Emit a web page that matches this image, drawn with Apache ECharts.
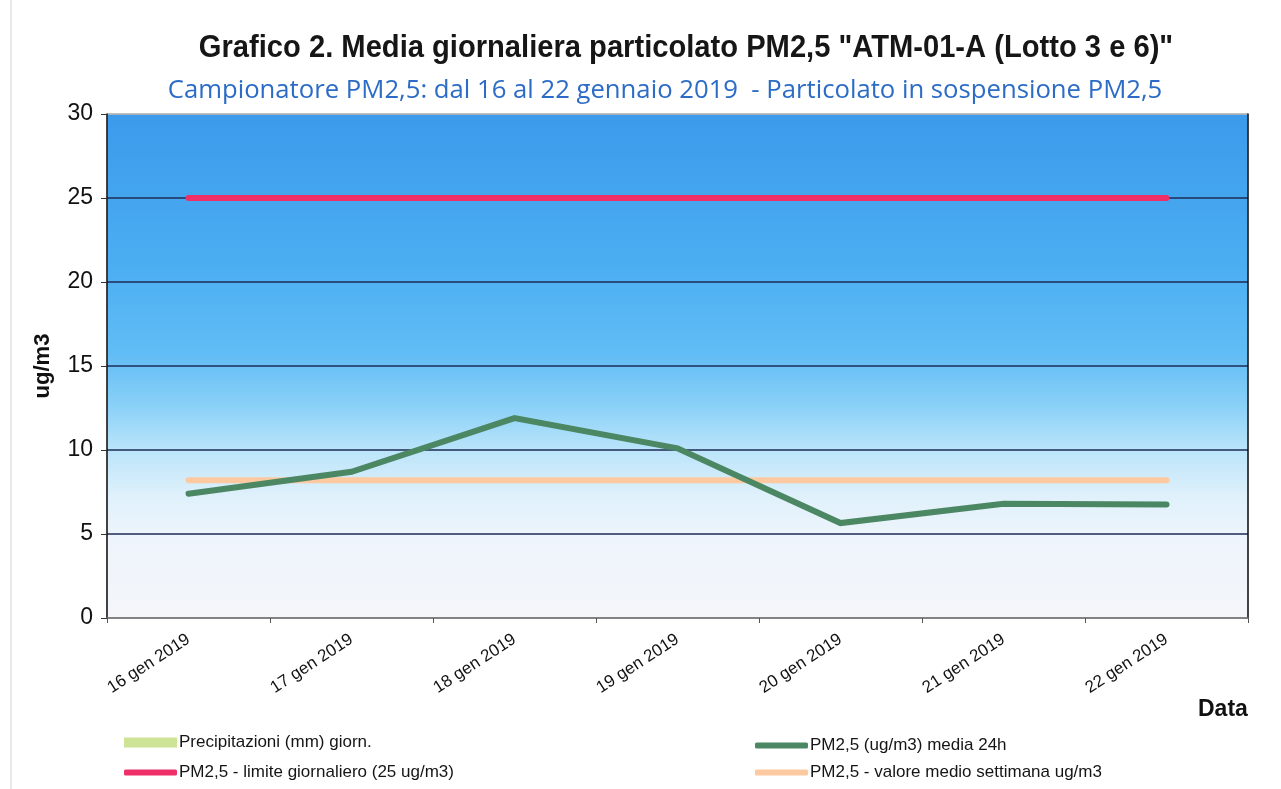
<!DOCTYPE html>
<html>
<head>
<meta charset="utf-8">
<script src="https://cdn.jsdelivr.net/npm/echarts@6/dist/echarts.min.js"></script>
<style>
  html, body { margin: 0; padding: 0; background: #fff; }
  #chart { width: 1281px; height: 789px; }
</style>
</head>
<body>
<div id="chart"></div>
<script>
// Giorni di campionamento
const giorni = ['16 gen 2019', '17 gen 2019', '18 gen 2019', '19 gen 2019', '20 gen 2019', '21 gen 2019', '22 gen 2019'];
// PM2,5 media 24h (ug/m3)
const pm25Media24h = [7.4, 8.7, 11.9, 10.1, 5.65, 6.8, 6.75];
// Limite giornaliero PM2,5 (ug/m3)
const limiteGiornaliero = [25, 25, 25, 25, 25, 25, 25];
// Valore medio della settimana (ug/m3)
const medioSettimana = [8.2, 8.2, 8.2, 8.2, 8.2, 8.2, 8.2];
// Precipitazioni giornaliere (mm): nessun dato nel periodo
const precipitazioni = [];
// Scala asse Y
const yMin = 0, yMax = 30, yStep = 5;

const nomi = {
  prec: 'Precipitazioni (mm) giorn.',
  limite: 'PM2,5 - limite giornaliero (25 ug/m3)',
  media: 'PM2,5 (ug/m3) media 24h',
  settimana: 'PM2,5 - valore medio settimana ug/m3'
};
const colori = {
  prec: '#cde396',
  limite: '#ef2f68',
  media: '#4c8763',
  settimana: '#fcc9a0'
};

const chart = echarts.init(document.getElementById('chart'), null, { renderer: 'canvas' });
const fontBase = '"Liberation Sans", Arial, sans-serif';

// Sfondo dell'area del grafico: azzurro in alto, quasi bianco in basso
const sfondo = new echarts.graphic.LinearGradient(0, 0, 0, 1, [
  { offset: 0.00, color: '#3c9aeb' },
  { offset: 0.30, color: '#4baef2' },
  { offset: 0.48, color: '#62bdf5' },
  { offset: 0.58, color: '#8bd1f8' },
  { offset: 0.67, color: '#bce5fa' },
  { offset: 0.76, color: '#e0f1fb' },
  { offset: 0.84, color: '#eef4fb' },
  { offset: 1.00, color: '#f4f6fa' }
]);

const legendaBase = {
  orient: 'vertical', itemWidth: 53, itemGap: 0,
  textStyle: { fontFamily: fontBase, fontSize: 17, color: '#151515', padding: [0, 0, 0, -3] }
};

chart.setOption({
  animation: false,
  backgroundColor: '#ffffff',
  title: {
    text: 'Campionatore PM2,5: dal 16 al 22 gennaio 2019  - Particolato in sospensione PM2,5',
    left: 660, top: 73, textAlign: 'center',
    textStyle: { fontFamily: '"Open Sans", sans-serif', fontWeight: 'normal', fontSize: 25.7, color: '#2c6cc6' }
  },
  grid: {
    left: 107, right: 33, top: 114, bottom: 171,
    show: true, backgroundColor: sfondo, borderColor: '#b5b5b5', borderWidth: 1
  },
  legend: [
    Object.assign({}, legendaBase, {
      left: 119, top: 729, itemHeight: 10,
      data: [{ name: nomi.prec, icon: 'rect' }]
    }),
    Object.assign({}, legendaBase, {
      left: 119, top: 759, itemHeight: 6,
      data: [{ name: nomi.limite, icon: 'roundRect' }]
    }),
    Object.assign({}, legendaBase, {
      left: 750, top: 732, itemHeight: 6, itemGap: 10,
      data: [{ name: nomi.media, icon: 'roundRect' }, { name: nomi.settimana, icon: 'roundRect' }]
    })
  ],
  xAxis: {
    type: 'category',
    data: giorni,
    boundaryGap: true,
    axisLine: { lineStyle: { color: '#7a7a7a', width: 1.5 } },
    axisTick: { show: true, length: 5, lineStyle: { color: '#555' } },
    axisLabel: {
      rotate: 33, margin: 20, interval: 0,
      fontFamily: fontBase, fontSize: 17, color: '#111'
    },
    splitLine: { show: false }
  },
  yAxis: [
    {
      type: 'value', min: yMin, max: yMax, interval: yStep,
      name: 'ug/m3', nameLocation: 'middle', nameGap: 53, nameRotate: 90,
      nameTextStyle: { fontFamily: fontBase, fontWeight: 'bold', fontSize: 22, color: '#111' },
      axisLine: { show: true, lineStyle: { color: '#111', width: 1.5 } },
      axisTick: { show: true, length: 6, lineStyle: { color: '#333' } },
      axisLabel: { fontFamily: fontBase, fontSize: 23, color: '#111', margin: 14 },
      splitLine: {
        show: true,
        lineStyle: { color: ['#888888', '#1d2b55', '#1d2b55', '#1d2b55', '#1d2b55', '#1d2b55', '#b5b5b5'], width: 1.5 }
      }
    },
    {
      type: 'value', min: yMin, max: yMax, interval: yStep, position: 'right',
      axisLine: { show: true, lineStyle: { color: '#111', width: 1.5 } },
      axisTick: { show: false }, axisLabel: { show: false }, splitLine: { show: false }
    }
  ],
  graphic: [
    {
      // titolo principale in carattere stretto
      type: 'text', x: 686, y: 48, scaleX: 0.94,
      style: {
        text: 'Grafico 2. Media giornaliera particolato PM2,5 "ATM-01-A (Lotto 3 e 6)"',
        align: 'center', verticalAlign: 'middle',
        fontFamily: fontBase, fontWeight: 'bold', fontSize: 31, fill: '#161616'
      }
    },
    {
      type: 'text', left: 1198, top: 698,
      style: { text: 'Data', fontFamily: fontBase, fontWeight: 'bold', fontSize: 23, fill: '#111' }
    },
    {
      type: 'line', shape: { x1: 11, y1: 0, x2: 11, y2: 789 },
      style: { stroke: '#d0d0d0', lineWidth: 1 }
    }
  ],
  series: [
    {
      name: nomi.prec, type: 'bar', data: precipitazioni,
      itemStyle: { color: colori.prec }
    },
    {
      name: nomi.limite, type: 'line', data: limiteGiornaliero,
      symbol: 'none', z: 3,
      lineStyle: { color: colori.limite, width: 6, cap: 'round' },
      itemStyle: { color: colori.limite }
    },
    {
      name: nomi.settimana, type: 'line', data: medioSettimana,
      symbol: 'none', z: 3,
      lineStyle: { color: colori.settimana, width: 6, cap: 'round' },
      itemStyle: { color: colori.settimana }
    },
    {
      name: nomi.media, type: 'line', data: pm25Media24h,
      symbol: 'none', z: 4,
      lineStyle: { color: colori.media, width: 6, cap: 'round', join: 'miter' },
      itemStyle: { color: colori.media }
    }
  ]
});
</script>
</body>
</html>
